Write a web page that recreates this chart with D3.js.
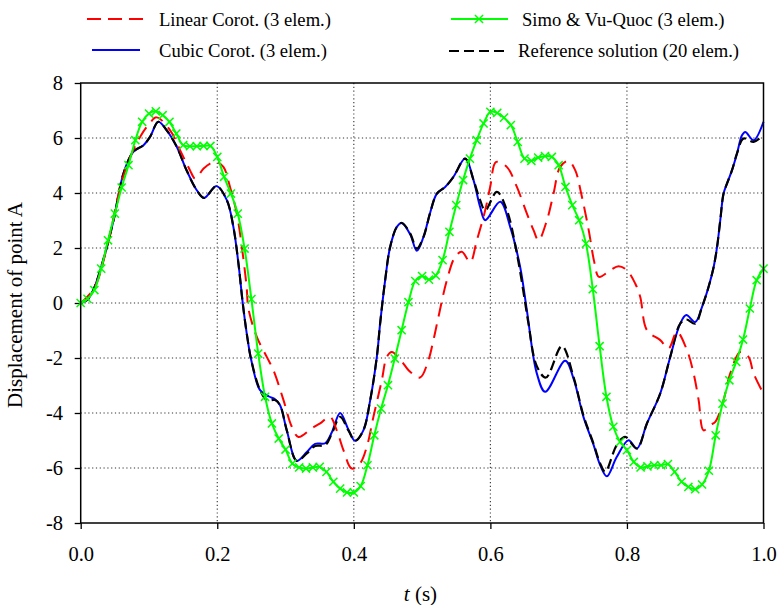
<!DOCTYPE html>
<html>
<head>
<meta charset="utf-8">
<script src="https://cdn.jsdelivr.net/npm/d3@7"></script>
<style>
  body { margin: 0; background: #fff; }
  svg { display: block; }
  svg text { font-family: 'Liberation Serif', 'Times New Roman', serif !important; fill: #000; }
</style>
</head>
<body>
<svg id="chart" width="779" height="605"></svg>
<script>
// ---- axis ticks ----
const xTicks = [0, 0.2, 0.4, 0.6, 0.8, 1.0];
const yTicks = [-8, -6, -4, -2, 0, 2, 4, 6, 8];

// ---- Reference solution (20 elem.) ----
const refT = [0,0.01,0.0185,0.033,0.048,0.0625,0.077,0.092,0.1015,0.1137,0.126,0.1407,0.155,0.17,0.1807,0.199,0.214,0.2236,0.231,0.2373,0.2432,0.25,0.2627,0.2725,0.2847,0.292,0.3018,0.3165,0.3312,0.3433,0.358,0.3678,0.38,0.392,0.4019,0.414,0.424,0.4337,0.4385,0.4459,0.4532,0.463,0.4703,0.4825,0.4923,0.502,0.512,0.5216,0.5338,0.546,0.5631,0.5753,0.585,0.5924,0.6095,0.6242,0.6388,0.651,0.6558,0.668,0.6813,0.7047,0.7218,0.7364,0.751,0.7609,0.7682,0.785,0.7975,0.8146,0.8293,0.8488,0.8634,0.878,0.8869,0.9,0.91,0.9196,0.927,0.932,0.9367,0.9415,0.9465,0.9539,0.9612,0.9708,0.9855,1.0];
const refV = [0,0.12,0.47,1.56,3.0,4.7,5.5,5.74,6.04,6.59,6.28,5.68,4.83,4.1,3.82,4.25,3.74,2.77,1.44,0,-1.11,-2.1,-3.17,-3.53,-3.53,-3.72,-4.63,-5.74,-5.47,-5.2,-5.17,-4.75,-4.14,-4.63,-5.01,-4.63,-3.53,-1.96,-0.75,0.83,2.04,2.77,2.91,2.53,1.98,2.4,3.3,3.98,4.22,4.59,5.25,4.47,3.74,3.37,4.04,3.37,1.8,0,-0.75,-2.3,-2.71,-1.57,-2.69,-4.1,-5.11,-5.84,-6.14,-5.17,-4.87,-5.29,-4.38,-3.29,-1.96,-0.75,-0.6,-0.75,-0.14,0.59,1.31,2.04,3.01,3.98,4.34,4.83,5.44,5.98,5.86,6.1];

// ---- Cubic Corot. (3 elem.) ----
const cubicT = [0,0.01,0.0185,0.033,0.048,0.0625,0.077,0.092,0.1015,0.1137,0.126,0.1407,0.155,0.17,0.1807,0.199,0.214,0.2236,0.231,0.2373,0.2432,0.25,0.2627,0.2757,0.2847,0.292,0.3018,0.3165,0.3312,0.3433,0.358,0.3678,0.38,0.392,0.4019,0.414,0.424,0.4337,0.4385,0.4459,0.4532,0.463,0.4703,0.4825,0.4923,0.502,0.512,0.5216,0.5338,0.546,0.5631,0.5753,0.585,0.5924,0.6144,0.629,0.6436,0.6534,0.668,0.6803,0.7096,0.7218,0.7364,0.751,0.7609,0.7706,0.785,0.8023,0.8146,0.8293,0.8488,0.8634,0.878,0.8869,0.9,0.91,0.9196,0.927,0.932,0.9367,0.9415,0.9465,0.9539,0.9612,0.9685,0.9733,0.9855,1.0];
const cubicV = [0,0.12,0.47,1.56,3.0,4.7,5.5,5.74,6.04,6.59,6.28,5.68,4.83,4.1,3.82,4.25,3.74,2.77,1.44,0,-1.11,-2.1,-3.17,-3.4,-3.5,-3.72,-4.63,-5.74,-5.42,-5.12,-5.1,-4.7,-4.0,-4.6,-5.01,-4.63,-3.53,-1.96,-0.75,0.83,2.04,2.77,2.91,2.5,1.9,2.4,3.3,3.98,4.22,4.59,5.25,4.47,3.49,3.01,3.68,2.77,1.31,-0.26,-2.56,-3.23,-2.1,-2.75,-4.15,-5.15,-5.9,-6.3,-5.6,-4.99,-5.29,-4.38,-3.29,-1.96,-0.75,-0.44,-0.69,-0.14,0.59,1.31,2.04,3.01,3.98,4.34,4.83,5.44,6.1,6.22,5.92,6.59];

// ---- Linear Corot. (3 elem.) ----
const linT = [0,0.02,0.04,0.06,0.075,0.0869,0.1,0.111,0.131,0.1455,0.16,0.1675,0.18,0.1895,0.199,0.209,0.2187,0.2286,0.236,0.243,0.2456,0.2579,0.2725,0.2822,0.297,0.3092,0.319,0.3383,0.3507,0.365,0.375,0.3848,0.397,0.409,0.419,0.4287,0.441,0.4483,0.4556,0.4678,0.4825,0.497,0.509,0.5166,0.524,0.5363,0.5484,0.5582,0.5704,0.5802,0.5924,0.5997,0.6085,0.624,0.6388,0.6535,0.6632,0.6705,0.6828,0.6925,0.7023,0.7144,0.7242,0.733,0.744,0.7525,0.759,0.7755,0.7877,0.8,0.8121,0.8195,0.8293,0.8488,0.861,0.8732,0.888,0.8976,0.905,0.9122,0.922,0.9294,0.9415,0.9513,0.966,0.978,0.9855,1.0];
const linV = [0,0.55,2.2,4.4,5.45,6.04,6.5,6.75,6.28,5.56,4.83,4.53,4.89,5.07,5.13,4.95,4.22,3.25,2.04,0.59,-0.2,-1.23,-1.96,-2.44,-3.53,-4.5,-4.87,-4.56,-4.38,-4.14,-4.63,-5.35,-6.02,-5.84,-5.23,-4.14,-2.81,-1.96,-1.78,-2.05,-2.5,-2.71,-2.1,-1.35,-0.5,0.83,1.68,1.86,1.49,2.28,3.37,4.22,5.13,4.95,4.22,3.25,2.65,2.28,3.01,3.98,4.95,5.17,4.83,3.98,2.65,1.45,0.95,1.19,1.34,1.19,0.71,0.22,-0.99,-1.35,-1.65,-1.05,-1.72,-2.56,-3.53,-4.63,-4.44,-4.32,-3.53,-2.56,-1.78,-1.96,-2.56,-3.3];

// ---- Simo & Vu-Quoc (3 elem.), one sample every 0.01 s ----
const simoT = [0,0.01,0.02,0.03,0.04,0.05,0.06,0.07,0.08,0.09,0.1,0.11,0.12,0.13,0.14,0.15,0.16,0.17,0.18,0.19,0.2,0.21,0.22,0.23,0.24,0.25,0.26,0.27,0.28,0.29,0.3,0.31,0.32,0.33,0.34,0.35,0.36,0.37,0.38,0.39,0.4,0.41,0.42,0.43,0.44,0.45,0.46,0.47,0.48,0.49,0.5,0.51,0.52,0.53,0.54,0.55,0.56,0.57,0.58,0.59,0.6,0.61,0.62,0.63,0.64,0.65,0.66,0.67,0.68,0.69,0.7,0.71,0.72,0.73,0.74,0.75,0.76,0.77,0.78,0.79,0.8,0.81,0.82,0.83,0.84,0.85,0.86,0.87,0.88,0.89,0.9,0.91,0.92,0.93,0.94,0.95,0.96,0.97,0.98,0.99,1.0];
const simoV = [0,0.15,0.47,1.25,2.28,3.25,4.2,5.01,5.92,6.59,6.89,6.97,6.83,6.59,6.16,5.74,5.7,5.7,5.71,5.71,5.31,4.59,3.98,3.25,1.98,0.14,-1.84,-3.41,-4.38,-4.93,-5.33,-5.84,-5.98,-6.02,-5.98,-5.96,-6.14,-6.5,-6.75,-6.89,-6.89,-6.66,-5.9,-4.81,-3.84,-2.99,-2.02,-0.99,0.03,0.8,0.98,0.85,1.0,1.56,2.59,3.56,4.47,5.25,5.92,6.53,6.95,6.91,6.74,6.47,5.86,5.25,5.17,5.29,5.34,5.31,5.01,4.22,3.56,3.01,2.16,0.5,-1.57,-3.41,-4.5,-5.05,-5.35,-5.78,-5.98,-5.94,-5.9,-5.9,-5.86,-6.14,-6.5,-6.69,-6.77,-6.6,-6.1,-4.81,-3.66,-2.81,-2.14,-1.33,-0.2,0.83,1.25];

const seriesNames = ["Linear Corot. (3 elem.)", "Cubic Corot. (3 elem.)", "Simo & Vu-Quoc (3 elem.)", "Reference solution (20 elem.)"];

const serif = "'Liberation Serif', 'Times New Roman', serif";
const svg = d3.select("#chart");
const plot = { left: 80.7, right: 763.5, top: 83, bottom: 523 };

const x = d3.scaleLinear().domain([0, 1]).range([plot.left, plot.right]);
const y = d3.scaleLinear().domain([-8, 8]).range([plot.bottom, plot.top]);

// dotted grid
const grid = svg.append("g").attr("stroke", "#333").attr("stroke-width", 1.1).attr("stroke-dasharray", "1.2,2.6");
grid.selectAll("line.v").data(xTicks.filter(d => d > 0 && d < 1)).join("line")
  .attr("x1", d => x(d)).attr("x2", d => x(d)).attr("y1", plot.top).attr("y2", plot.bottom);
grid.selectAll("line.h").data(yTicks.filter(d => d > -8 && d < 8)).join("line")
  .attr("x1", plot.left).attr("x2", plot.right).attr("y1", d => y(d)).attr("y2", d => y(d));

// axes
const xAxis = svg.append("g").attr("transform", `translate(0,${plot.bottom})`)
  .call(d3.axisBottom(x).tickValues(xTicks).tickSize(6).tickFormat(d3.format(".1f")));
const yAxis = svg.append("g").attr("transform", `translate(${plot.left},0)`)
  .call(d3.axisLeft(y).tickValues(yTicks).tickSize(6).tickFormat(d => String(d)));
[xAxis, yAxis].forEach(a => {
  a.attr("font-family", serif).attr("font-size", 20.5);
  a.select(".domain").remove();
  a.selectAll(".tick line").attr("stroke", "#000").attr("stroke-width", 1.3);
  a.selectAll(".tick text").style("font-family", serif).style("font-size", "20.5px").attr("fill", "#000");
});
xAxis.selectAll(".tick text").attr("y", 37.7).attr("dy", null);
yAxis.selectAll(".tick text").attr("x", -17.7).attr("dy", "0.34em");

// curves
const line = d3.line().x(d => x(d[0])).y(d => y(d[1])).curve(d3.curveCatmullRom.alpha(0.5));
const pairs = (ts, vs) => ts.map((t, i) => [t, vs[i]]);

const curves = svg.append("g").attr("fill", "none").attr("stroke-linejoin", "round");
curves.append("path").datum(pairs(cubicT, cubicV)).attr("d", line)
  .attr("stroke", "#0000ff").attr("stroke-width", 2);
curves.append("path").datum(pairs(refT, refV)).attr("d", line)
  .attr("stroke", "#000").attr("stroke-width", 2.2).attr("stroke-dasharray", "10,5");
curves.append("path").datum(pairs(linT, linV)).attr("d", line)
  .attr("stroke", "#ff0000").attr("stroke-width", 2).attr("stroke-dasharray", "14,8");
const simo = pairs(simoT, simoV);
curves.append("path").datum(simo).attr("d", line)
  .attr("stroke", "#00ff00").attr("stroke-width", 2);
const marker = d3.symbol().type(d3.symbolX).size(45);
curves.append("g").selectAll("path").data(simo).join("path")
  .attr("transform", d => `translate(${x(d[0])},${y(d[1])})`)
  .attr("d", marker).attr("stroke", "#00ff00").attr("stroke-width", 1.5);

// frame
svg.append("rect").attr("x", plot.left).attr("y", plot.top)
  .attr("width", plot.right - plot.left).attr("height", plot.bottom - plot.top)
  .attr("fill", "none").attr("stroke", "#000").attr("stroke-width", 1.5);

// axis titles
const xt = svg.append("text").attr("x", 420.5).attr("y", 601).attr("text-anchor", "middle")
  .style("font-family", serif).style("font-size", "21px");
xt.append("tspan").attr("font-style", "italic").text("t");
xt.append("tspan").text(" (s)");
svg.append("text").attr("transform", "translate(22,305) rotate(-90)").attr("text-anchor", "middle")
  .style("font-family", serif).style("font-size", "21px").text("Displacement of point A");

// legend
const leg = svg.append("g");
const legText = (tx, ty, s) => leg.append("text").attr("x", tx).attr("y", ty)
  .style("font-family", serif).style("font-size", "18.6px").text(s);
// Linear Corot.
leg.append("line").attr("x1", 87).attr("x2", 145).attr("y1", 19).attr("y2", 19)
  .attr("stroke", "#ff0000").attr("stroke-width", 2).attr("stroke-dasharray", "14,7");
legText(159, 26, seriesNames[0]);
// Cubic Corot.
leg.append("line").attr("x1", 92).attr("x2", 140).attr("y1", 50).attr("y2", 50)
  .attr("stroke", "#0000ff").attr("stroke-width", 2);
legText(159, 57, seriesNames[1]);
// Simo & Vu-Quoc
leg.append("line").attr("x1", 451).attr("x2", 508).attr("y1", 19).attr("y2", 19)
  .attr("stroke", "#00ff00").attr("stroke-width", 2);
leg.append("path").attr("transform", "translate(479,19)").attr("d", marker)
  .attr("stroke", "#00ff00").attr("stroke-width", 1.5).attr("fill", "none");
legText(522, 26, seriesNames[2]);
// Reference solution
leg.append("line").attr("x1", 449).attr("x2", 507).attr("y1", 51).attr("y2", 51)
  .attr("stroke", "#000").attr("stroke-width", 2.2).attr("stroke-dasharray", "10,5");
legText(518, 57, seriesNames[3]);
</script>
</body>
</html>
